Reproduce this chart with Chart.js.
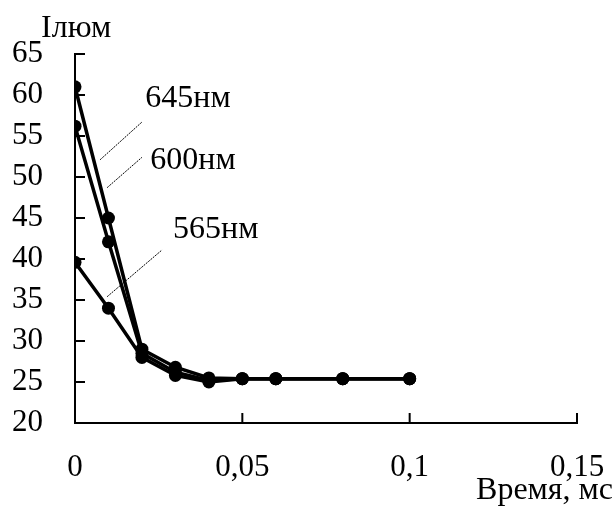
<!DOCTYPE html>
<html>
<head>
<meta charset="utf-8">
<script src="https://cdn.jsdelivr.net/npm/chart.js@4"></script>
<style>
  html, body { margin: 0; padding: 0; background: #fff; }
  #wrap { width: 616px; height: 508px; }
</style>
</head>
<body>
<div id="wrap"><canvas id="lumChart"></canvas></div>
<script>
const times = [0, 0.01, 0.02, 0.03, 0.04, 0.05, 0.06, 0.08, 0.1];
const series645 = [61, 45, 29, 26.8, 25.5, 25.4, 25.4, 25.4, 25.4];
const series600 = [56.2, 42.1, 28.5, 26.2, 25.2, 25.4, 25.4, 25.4, 25.4];
const series565 = [39.6, 34, 28, 25.8, 25, 25.4, 25.4, 25.4, 25.4];
const seriesNames = ["645нм", "600нм", "565нм"];
// label anchor (data coords) and leader line from/to
const leaders = [
  { text: "645нм", at: [0.021, 59.6], from: [0.0075, 52.1], to: [0.020, 56.7] },
  { text: "600нм", at: [0.0225, 52.0], from: [0.0096, 48.7], to: [0.020, 52.4] },
  { text: "565нм", at: [0.0293, 43.6], from: [0.0096, 35.4], to: [0.026, 41.1] },
];

const serif = "'Liberation Serif', 'Times New Roman', serif";

function toPoints(vals) {
  return vals.map((v, i) => ({ x: times[i], y: v }));
}

const extras = {
  id: "extras",
  afterDraw(chart) {
    const ctx = chart.ctx;
    const xs = chart.scales.x, ys = chart.scales.y;
    const area = chart.chartArea;
    ctx.save();
    ctx.strokeStyle = "#000";
    ctx.lineWidth = 2;
    // inward tick marks
    ys.ticks.forEach(t => {
      const y = ys.getPixelForValue(t.value);
      ctx.beginPath();
      ctx.moveTo(area.left, y);
      ctx.lineTo(area.left + 10, y);
      ctx.stroke();
    });
    xs.ticks.forEach(t => {
      const x = xs.getPixelForValue(t.value);
      ctx.beginPath();
      ctx.moveTo(x, area.bottom);
      ctx.lineTo(x, area.bottom - 10);
      ctx.stroke();
    });
    // leader lines + labels
    ctx.lineWidth = 1;
    ctx.setLineDash([2, 1]);
    ctx.fillStyle = "#000";
    ctx.font = "32px " + serif;
    ctx.textBaseline = "middle";
    ctx.textAlign = "left";
    leaders.forEach(l => {
      ctx.beginPath();
      ctx.moveTo(xs.getPixelForValue(l.from[0]), ys.getPixelForValue(l.from[1]));
      ctx.lineTo(xs.getPixelForValue(l.to[0]), ys.getPixelForValue(l.to[1]));
      ctx.stroke();
      ctx.fillText(l.text, xs.getPixelForValue(l.at[0]), ys.getPixelForValue(l.at[1]));
    });
    ctx.setLineDash([]);
    // axis titles
    ctx.font = "32px " + serif;
    ctx.textAlign = "left";
    ctx.fillText("Iлюм", area.left - 34, 29);
    ctx.textAlign = "right";
    ctx.fillText("Время, мс", chart.width - 3, 491);
    ctx.restore();
  }
};

new Chart(document.getElementById("lumChart"), {
  type: "line",
  data: {
    datasets: [series645, series600, series565].map((vals, i) => ({
      label: seriesNames[i],
      data: toPoints(vals),
      borderColor: "#000",
      backgroundColor: "#000",
      borderWidth: 3.5,
      pointRadius: 6.5,
      pointBackgroundColor: "#000",
      pointBorderWidth: 0,
      tension: 0,
    })),
  },
  options: {
    responsive: true,
    maintainAspectRatio: false,
    animation: false,
    layout: { padding: { top: 54, right: 39, left: 0, bottom: 0 } },
    plugins: {
      legend: { display: false },
      tooltip: { enabled: false },
    },
    scales: {
      x: {
        type: "linear",
        min: 0,
        max: 0.15,
        grid: { display: false },
        border: { display: true, color: "#000", width: 2 },
        ticks: {
          stepSize: 0.05,
          padding: 18,
          color: "#000",
          font: { family: serif, size: 31 },
          maxRotation: 0,
          callback: v => String(Math.round(v * 100) / 100).replace(".", ","),
        },
        afterFit: s => { s.height = 85; s.paddingLeft = 0; s.paddingRight = 0; },
      },
      y: {
        min: 20,
        max: 65,
        grid: { display: false },
        border: { display: true, color: "#000", width: 2 },
        ticks: {
          stepSize: 5,
          padding: 24,
          color: "#000",
          font: { family: serif, size: 31 },
        },
        afterFit: s => { s.width = 75; s.paddingTop = 0; s.paddingBottom = 0; },
      },
    },
  },
  plugins: [extras],
});
</script>
</body>
</html>
